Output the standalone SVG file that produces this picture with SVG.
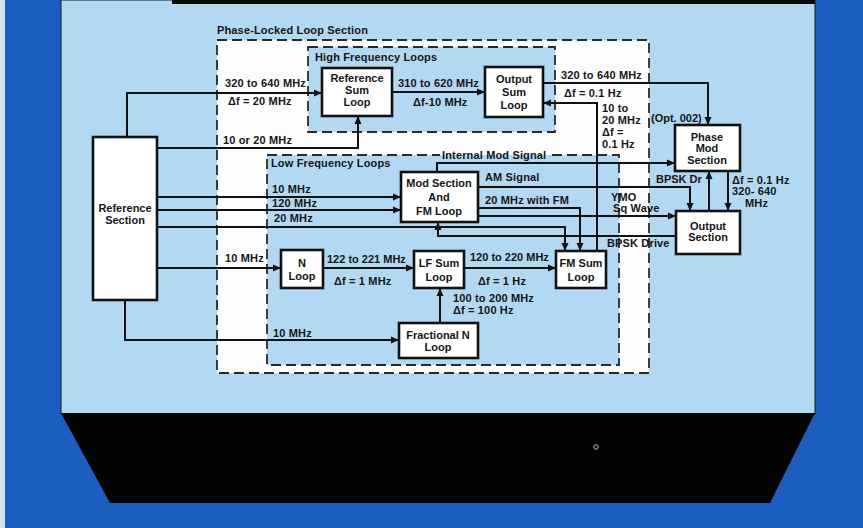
<svg xmlns="http://www.w3.org/2000/svg" width="863" height="528" viewBox="0 0 863 528">
<defs>
<marker id="ah" markerUnits="userSpaceOnUse" markerWidth="9" markerHeight="8" refX="8" refY="4" orient="auto">
<path d="M0,0.5 L8,4 L0,7.5 Z" fill="#111"/>
</marker>
<style>
text{font-family:"Liberation Sans",Arial,sans-serif;font-weight:bold;font-size:11px;letter-spacing:0.15px;fill:#151515}
.n{text-anchor:middle;font-size:11px;letter-spacing:0}
.t{letter-spacing:0}
.box{fill:#fff;stroke:#111;stroke-width:2.6}
.dash{stroke:#2a2a2a;stroke-width:1.8;stroke-dasharray:10,5}
.c{fill:none;stroke:#111;stroke-width:2}
.ca{fill:none;stroke:#111;stroke-width:2;marker-end:url(#ah)}
</style>
</defs>
<rect x="0" y="0" width="863" height="528" fill="#1c5dc0"/>
<rect x="0" y="0" width="5" height="528" fill="#cfe2f2"/>
<rect x="61" y="0" width="754" height="414" fill="#b3d8f2" stroke="#1a1a1a" stroke-width="1"/>
<rect x="172" y="0" width="643" height="4" fill="#0a0a0a"/>
<polygon points="61,413 815,413 770,503 110,503" fill="#040404"/>
<circle cx="596" cy="447" r="2.2" fill="none" stroke="#bbb" stroke-width="1"/>

<g id="plls">
<rect class="dash" x="217" y="40" width="432" height="333" fill="#fdfdfd"/>
<text x="217" y="34">Phase-Locked Loop Section</text>
</g>
<g id="hfl">
<rect class="dash" x="308" y="47" width="247" height="85" fill="#b3d8f2"/>
<text x="315" y="61">High Frequency Loops</text>
</g>
<g id="lfl">
<rect class="dash" x="267" y="155" width="352" height="210" fill="#b3d8f2"/>
<text x="271" y="167">Low Frequency Loops</text>
</g>

<g id="connectors">
<path class="ca" d="M127,137 V93 H322"/>
<path class="ca" d="M157,148 H358 V116"/>
<path class="ca" d="M392,92 H485"/>
<path class="ca" d="M543,83 H708 V125"/>
<path class="ca" d="M597,251 V103 H543"/>
<path class="ca" d="M157,197 H401"/>
<path class="ca" d="M157,210 H401"/>
<path class="ca" d="M157,227 H565 V251"/>
<path class="ca" d="M157,268 H281"/>
<path class="ca" d="M323,268 H414"/>
<path class="ca" d="M464,268 H556"/>
<path class="ca" d="M440,323 V288"/>
<path class="ca" d="M125,300 V340 H399"/>
<path class="ca" d="M437,172 V163 H675"/>
<path class="ca" d="M478,187 H690 V211"/>
<path class="ca" d="M478,208 H580 V251"/>
<path class="ca" d="M478,216 H676"/>
<path class="ca" d="M676,236 H438 V222"/>
<path class="ca" d="M709,211 V171"/>
<path class="ca" d="M728,171 V211"/>
</g>

<g id="labels">
<text x="225" y="87">320 to 640 MHz</text>
<text x="228" y="105">Δf = 20 MHz</text>
<text x="223" y="144">10 or 20 MHz</text>
<text x="398" y="87">310 to 620 MHz</text>
<text x="413" y="106">Δf-10 MHz</text>
<text x="561" y="79">320 to 640 MHz</text>
<text x="564" y="97">Δf = 0.1 Hz</text>
<text x="602" y="112">10 to</text>
<text x="602" y="124">20 MHz</text>
<text x="602" y="136">Δf =</text>
<text x="602" y="148">0.1 Hz</text>
<text class="t" x="651" y="122">(Opt. 002)</text>
<rect x="440" y="149" width="108" height="6" fill="#fdfdfd"/>
<rect x="440" y="155" width="108" height="6" fill="#b3d8f2"/>
<text x="442" y="159">Internal Mod Signal</text>
<text x="485" y="181">AM Signal</text>
<text x="485" y="204">20 MHz with FM</text>
<text x="611" y="201">YMO</text>
<text x="613" y="212">Sq Wave</text>
<text x="607" y="247">BPSK Drive</text>
<text class="t" x="656" y="183">BPSK Dr</text>
<text x="732" y="184">Δf = 0.1 Hz</text>
<text x="732" y="195">320- 640</text>
<text x="745" y="207">MHz</text>
<text x="272" y="193">10 MHz</text>
<text x="272" y="207">120 MHz</text>
<text x="274" y="222">20 MHz</text>
<text x="225" y="262">10 MHz</text>
<text class="t" x="327" y="263">122 to 221 MHz</text>
<text x="334" y="285">Δf = 1 MHz</text>
<text class="t" x="470" y="261">120 to 220 MHz</text>
<text x="478" y="285">Δf = 1 Hz</text>
<text x="453" y="302">100 to 200 MHz</text>
<text x="453" y="314">Δf = 100 Hz</text>
<text x="273" y="337">10 MHz</text>
</g>

<g id="ref-section">
<rect class="box" x="93" y="137" width="64" height="163" stroke-width="3"/>
<text class="n" x="125" y="212">Reference</text>
<text class="n" x="125" y="224">Section</text>
</g>
<g id="ref-sum-loop">
<rect class="box" x="322" y="68" width="70" height="48"/>
<text class="n" x="357" y="82">Reference</text>
<text class="n" x="357" y="94">Sum</text>
<text class="n" x="357" y="106">Loop</text>
</g>
<g id="out-sum-loop">
<rect class="box" x="485" y="67" width="58" height="50"/>
<text class="n" x="514" y="83">Output</text>
<text class="n" x="514" y="96">Sum</text>
<text class="n" x="514" y="109">Loop</text>
</g>
<g id="phase-mod">
<rect class="box" x="675" y="125" width="65" height="46"/>
<text class="n" x="707" y="141">Phase</text>
<text class="n" x="707" y="152">Mod</text>
<text class="n" x="707" y="164">Section</text>
</g>
<g id="output-section">
<rect class="box" x="676" y="211" width="64" height="43"/>
<text class="n" x="708" y="230">Output</text>
<text class="n" x="708" y="241">Section</text>
</g>
<g id="mod-section">
<rect class="box" x="401" y="172" width="77" height="50"/>
<text class="n" x="439" y="187">Mod Section</text>
<text class="n" x="439" y="201">And</text>
<text class="n" x="439" y="215">FM Loop</text>
</g>
<g id="n-loop">
<rect class="box" x="281" y="250" width="42" height="38"/>
<text class="n" x="302" y="267">N</text>
<text class="n" x="302" y="280">Loop</text>
</g>
<g id="lf-sum-loop">
<rect class="box" x="414" y="251" width="50" height="37"/>
<text class="n" x="439" y="267">LF Sum</text>
<text class="n" x="439" y="281">Loop</text>
</g>
<g id="fm-sum-loop">
<rect class="box" x="556" y="251" width="50" height="37"/>
<text class="n" x="581" y="267">FM Sum</text>
<text class="n" x="581" y="281">Loop</text>
</g>
<g id="frac-n-loop">
<rect class="box" x="399" y="323" width="79" height="35"/>
<text class="n" x="438" y="339">Fractional N</text>
<text class="n" x="438" y="351">Loop</text>
</g>
</svg>
